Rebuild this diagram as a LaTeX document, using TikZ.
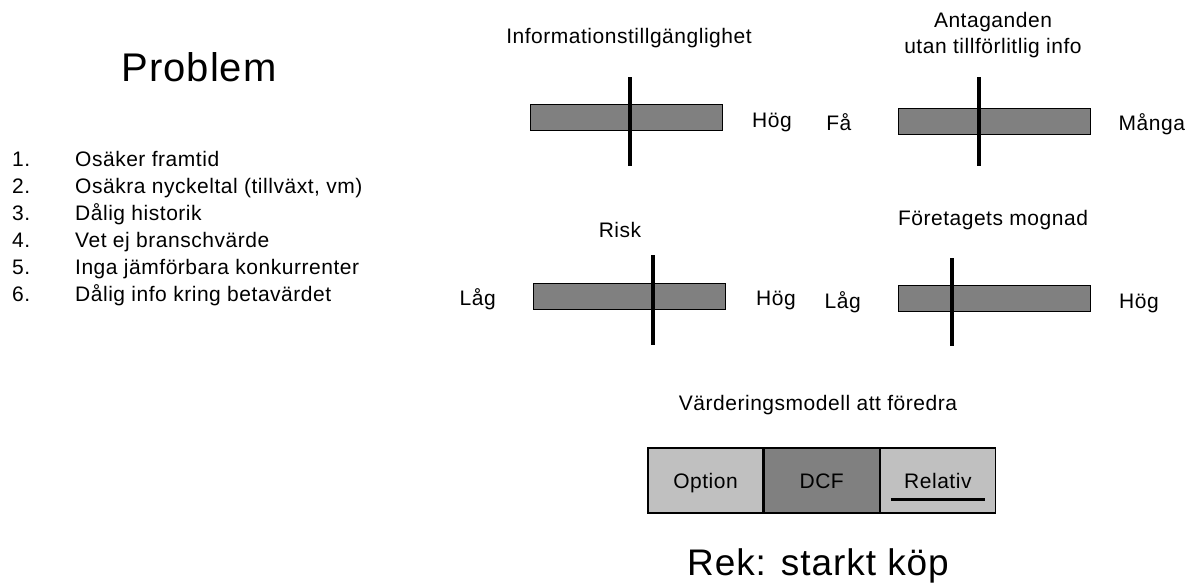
\documentclass[tikz,border=0pt]{standalone}
\usepackage{fontspec}
\setmainfont{Liberation Sans}[LetterSpace=2.5]
\usetikzlibrary{positioning}

\definecolor{barfill}{HTML}{808080}
\definecolor{lightfill}{HTML}{C0C0C0}

\tikzset{
  lbl/.style={font=\fontsize{21}{26}\selectfont, inner sep=0pt},
  sidelbl/.style={lbl, text height=15pt, text depth=0pt, yshift=-2pt},
  bigtxt/.style={inner sep=0pt},
  scalebar/.style={draw=black, line width=1pt, fill=barfill, minimum width=192pt, minimum height=26pt, inner sep=0pt},
  marker/.style={line width=4pt},
  modelbox/.style={draw=black, line width=1.2pt, minimum width=115pt, minimum height=65pt, inner sep=0pt,
                   text height=15pt, text depth=0pt, font=\fontsize{21}{26}\selectfont},
}

\begin{document}
\begin{tikzpicture}[x=1pt, y=-1pt, node distance=28pt]
\useasboundingbox (0,0) rectangle (1191,582);

% problem list
\node[bigtxt, anchor=base, font=\fontsize{40}{48}\selectfont] (problem) at (199,81) {Problem};
\foreach \i/\t in {1/{Osäker framtid}, 2/{Osäkra nyckeltal (tillväxt, vm)}, 3/{Dålig historik},
                   4/{Vet ej branschvärde}, 5/{Inga jämförbara konkurrenter}, 6/{Dålig info kring betavärdet}}
{
  \node[lbl, anchor=base west] (num\i) at (12,{166+27*(\i-1)}) {\i.};
  \node[lbl, anchor=base west] (item\i) at (75,{166+27*(\i-1)}) {\t};
}

% informationstillganglighet
\node[lbl] (infotitle) at (629,38) {Informationstillgänglighet};
\node[scalebar] (infobar) at (626.5,117.5) {};
\draw[marker] (630,77) -- (630,166);
\node[sidelbl, right=29pt of infobar] (infohi) {Hög};

% antaganden
\node[lbl, align=center] (asstitle) at (993,35) {Antaganden\\utan tillförlitlig info};
\node[scalebar] (assbar) at (994,121) {};
\draw[marker] (979,77) -- (979,166);
\node[sidelbl, left=46pt of assbar] (asslo) {Få};
\node[sidelbl, right=28pt of assbar] (asshi) {Många};

% risk
\node[lbl] (risktitle) at (620,230) {Risk};
\node[scalebar] (riskbar) at (629.5,296) {};
\draw[marker] (653,255) -- (653,345);
\node[sidelbl, left=37pt of riskbar] (risklo) {Låg};
\node[sidelbl, right=30pt of riskbar] (riskhi) {Hög};

% mognad
\node[lbl] (mattitle) at (993,220) {Företagets mognad};
\node[scalebar] (matbar) at (994.5,298.5) {};
\draw[marker] (952,258) -- (952,346);
\node[sidelbl, left=37pt of matbar] (matlo) {Låg};
\node[sidelbl, right=28pt of matbar] (mathi) {Hög};

% varderingsmodell
\node[lbl] (modeltitle) at (818,405) {Värderingsmodell att föredra};
\node[modelbox, fill=lightfill] (option) at (705.5,480.5) {Option};
\node[modelbox, fill=barfill, right=0pt of option] (dcf) {DCF};
\node[modelbox, fill=lightfill, right=0pt of dcf] (relativ) {Relativ};
\draw[line width=3pt] ([shift={(-47pt,-18.5pt)}]relativ.center) -- ([shift={(47pt,-18.5pt)}]relativ.center);

\node[bigtxt, anchor=base, font=\fontsize{37}{44}\selectfont] (rek) at (818,575) {Rek: starkt köp};
\end{tikzpicture}
\end{document}
